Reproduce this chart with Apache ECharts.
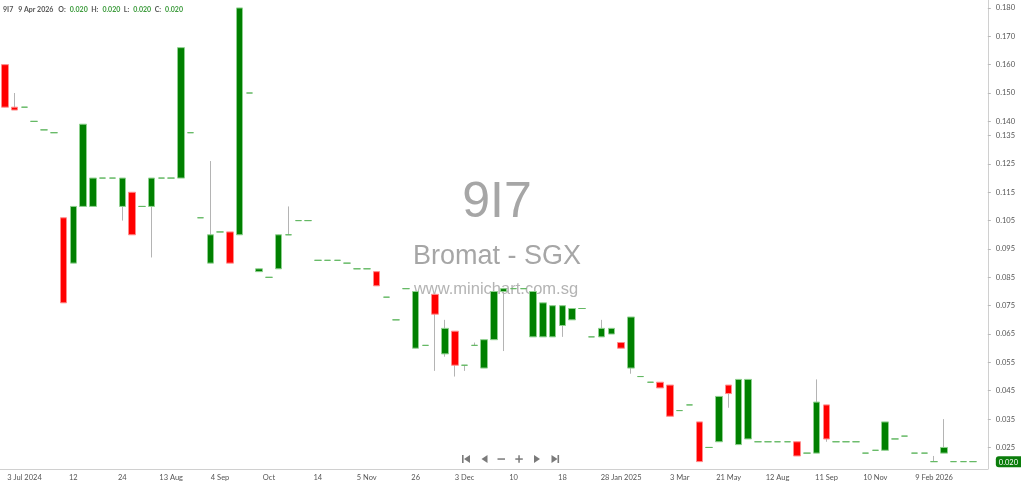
<!DOCTYPE html>
<html><head><meta charset="utf-8">
<script src="https://cdn.jsdelivr.net/npm/echarts@6/dist/echarts.min.js"></script>
<style>html,body{margin:0;padding:0;background:#fff}#c{width:1024px;height:484px}</style>
</head><body><div id="c"></div>
<script>
const symbol = '9I7';
const stockName = 'Bromat - SGX';
const site = 'www.minichart.com.sg';
const lastDate = '9 Apr 2026';

const opens = [
0.160,0.145,0.145,0.140,0.137,0.136,0.106,0.090,0.110,0.110,
0.120,0.120,0.110,0.115,0.110,0.110,0.120,0.120,0.120,0.136,
0.106,0.090,0.101,0.101,0.100,0.150,0.087,0.085,0.088,0.100,
0.105,0.105,0.091,0.091,0.091,0.090,0.088,0.088,0.087,0.078,
0.070,0.081,0.060,0.061,0.079,0.058,0.066,0.054,0.061,0.053,
0.063,0.080,0.081,0.081,0.064,0.064,0.064,0.068,0.070,0.074,
0.064,0.064,0.065,0.062,0.053,0.050,0.048,0.048,0.047,0.038,
0.040,0.034,0.025,0.027,0.047,0.026,0.028,0.027,0.027,0.027,
0.027,0.027,0.023,0.023,0.040,0.027,0.027,0.027,0.023,0.024,
0.024,0.028,0.029,0.023,0.023,0.020,0.023,0.020,0.020,0.020];
const highs = [
0.160,0.150,0.145,0.140,0.137,0.136,0.106,0.110,0.139,0.120,
0.120,0.120,0.120,0.115,0.110,0.120,0.120,0.120,0.166,0.136,
0.106,0.126,0.101,0.101,0.180,0.150,0.088,0.085,0.100,0.110,
0.105,0.105,0.091,0.091,0.091,0.090,0.088,0.088,0.087,0.078,
0.070,0.081,0.080,0.061,0.079,0.070,0.066,0.054,0.062,0.063,
0.080,0.081,0.081,0.081,0.080,0.076,0.075,0.075,0.074,0.074,
0.064,0.070,0.067,0.062,0.071,0.050,0.048,0.048,0.047,0.038,
0.040,0.034,0.025,0.043,0.047,0.049,0.049,0.027,0.027,0.027,
0.027,0.027,0.023,0.049,0.040,0.027,0.027,0.027,0.023,0.024,
0.034,0.028,0.029,0.023,0.023,0.022,0.035,0.020,0.020,0.020];
const lows = [
0.145,0.144,0.145,0.140,0.137,0.136,0.076,0.090,0.110,0.110,
0.120,0.120,0.105,0.100,0.110,0.092,0.120,0.120,0.120,0.136,
0.106,0.090,0.101,0.090,0.100,0.150,0.087,0.085,0.088,0.100,
0.105,0.105,0.091,0.091,0.091,0.090,0.088,0.088,0.082,0.078,
0.070,0.081,0.060,0.061,0.052,0.057,0.050,0.052,0.061,0.053,
0.063,0.059,0.081,0.081,0.064,0.064,0.064,0.064,0.070,0.074,
0.064,0.064,0.065,0.060,0.051,0.050,0.048,0.046,0.036,0.038,
0.040,0.020,0.025,0.027,0.039,0.026,0.028,0.027,0.027,0.027,
0.027,0.022,0.023,0.023,0.027,0.027,0.027,0.027,0.023,0.024,
0.024,0.028,0.029,0.023,0.023,0.020,0.023,0.020,0.020,0.020];
const closes = [
0.145,0.144,0.145,0.140,0.137,0.136,0.076,0.110,0.139,0.120,
0.120,0.120,0.120,0.100,0.110,0.120,0.120,0.120,0.166,0.136,
0.106,0.100,0.101,0.090,0.180,0.150,0.088,0.085,0.100,0.100,
0.105,0.105,0.091,0.091,0.091,0.090,0.088,0.088,0.082,0.078,
0.070,0.081,0.080,0.061,0.072,0.067,0.054,0.054,0.061,0.063,
0.080,0.081,0.081,0.081,0.080,0.076,0.075,0.075,0.074,0.074,
0.064,0.067,0.067,0.060,0.071,0.050,0.048,0.046,0.036,0.038,
0.040,0.020,0.025,0.043,0.044,0.049,0.049,0.027,0.027,0.027,
0.027,0.022,0.023,0.041,0.028,0.027,0.027,0.027,0.023,0.024,
0.034,0.028,0.029,0.023,0.023,0.020,0.025,0.020,0.020,0.020];

const tickPos = [2,7,12,17,22,27,32,37,42,47,52,57,63,69,74,79,84,89,95];
const tickText = ['3 Jul 2024','12','24','13 Aug','4 Sep','Oct','14','5 Nov','26','3 Dec','10','18','28 Jan 2025','3 Mar','21 May','12 Aug','11 Sep','10 Nov','9 Feb 2026'];
const yLabels = [0.180,0.170,0.160,0.150,0.140,0.135,0.125,0.115,0.105,0.095,0.085,0.075,0.065,0.055,0.045,0.035,0.025];

const n = opens.length;
const last = n - 1;
const lastClose = closes[last];
const categories = Array.from({length: n + 1}, (_, i) => String(i));
const wickData = opens.map((o, i) => [o, closes[i], lows[i], highs[i]]);
const bodyData = opens.map((o, i) => [o, closes[i], Math.min(o, closes[i]), Math.max(o, closes[i])]);
const isTick = (i) => tickPos.indexOf(i) >= 0;

const chart = echarts.init(document.getElementById('c'));
const F = 'Lato, "Liberation Sans", sans-serif';
const gray = '#7a7a7a';
chart.setOption({
  animation: false,
  backgroundColor: '#fff',
  title: {
    left: 3, top: 6, padding: 0,
    text: `{n|${symbol}}{n|${lastDate}}{l|O:}{v|${opens[last].toFixed(3)}}{l|H:}{v|${highs[last].toFixed(3)}}{l|L:}{v|${lows[last].toFixed(3)}}{l|C:}{v|${closes[last].toFixed(3)}}`,
    textStyle: {
      fontFamily: F, fontSize: 7,
      rich: {
        n: {color: '#555', fontFamily: F, fontSize: 7, padding: [0, 5, 0, 0]},
        l: {color: '#555', fontFamily: F, fontSize: 7, padding: [0, 4, 0, 0]},
        v: {color: '#3a9a3a', fontFamily: F, fontSize: 7, padding: [0, 3.5, 0, 0]}
      }
    }
  },
  grid: {left: 0, right: 28, top: 0, bottom: 15},
  xAxis: {
    type: 'category',
    data: categories,
    boundaryGap: true,
    axisLine: {lineStyle: {color: '#d0d0d0'}},
    axisTick: {alignWithLabel: true, length: 4, interval: (i) => isTick(i), lineStyle: {color: '#c8c8c8'}},
    axisLabel: {
      interval: (i) => isTick(i),
      formatter: (v, i) => { const k = tickPos.indexOf(Number(v)); return k >= 0 ? tickText[k] : ''; },
      fontFamily: F, fontSize: 7.5, color: '#555', margin: 5
    },
    splitLine: {show: false}
  },
  yAxis: {
    type: 'value',
    position: 'right',
    min: 0.0174, max: 0.1828,
    scale: true,
    axisLine: {show: true, lineStyle: {color: '#d0d0d0'}},
    axisTick: {show: true, length: 3, customValues: yLabels, lineStyle: {color: '#b8b8b8'}},
    axisLabel: {
      customValues: yLabels.concat([lastClose]),
      formatter: (v) => Math.abs(v - lastClose) < 1e-9 ? `{tag|${v.toFixed(3)}}` : v.toFixed(3),
      fontFamily: F, fontSize: 7.5, color: '#555', margin: 8,
      rich: {
        tag: {backgroundColor: '#0b7d0b', color: '#fff', fontFamily: F, fontSize: 7.5, padding: [2, 3, 1, 3], borderRadius: [3, 0, 0, 3]}
      }
    },
    splitLine: {show: false}
  },
  graphic: [
    {type: 'text', x: 497, y: 203, silent: true, z: 0, style: {text: symbol, font: '50px "Liberation Sans", Arial, sans-serif', fill: '#a6a6a6', textAlign: 'center', textVerticalAlign: 'middle'}},
    {type: 'text', x: 497, y: 257, silent: true, z: 0, style: {text: stockName, font: '27px "Liberation Sans", Arial, sans-serif', fill: '#a6a6a6', textAlign: 'center', textVerticalAlign: 'middle'}},
    {type: 'text', x: 496, y: 289, silent: true, z: 0, style: {text: site, font: '16.5px "Liberation Sans", Arial, sans-serif', fill: '#b4b4b4', textAlign: 'center', textVerticalAlign: 'middle'}},
    {type: 'rect', shape: {x: 462, y: 455, width: 1.6, height: 8}, style: {fill: gray}, silent: true},
    {type: 'polygon', shape: {points: [[470, 455], [470, 463], [464, 459]]}, style: {fill: gray}, silent: true},
    {type: 'polygon', shape: {points: [[487.5, 455], [487.5, 463], [481.5, 459]]}, style: {fill: gray}, silent: true},
    {type: 'rect', shape: {x: 497.5, y: 458.3, width: 7.5, height: 1.5}, style: {fill: gray}, silent: true},
    {type: 'rect', shape: {x: 515.3, y: 458.3, width: 7.5, height: 1.5}, style: {fill: gray}, silent: true},
    {type: 'rect', shape: {x: 518.3, y: 455.3, width: 1.5, height: 7.5}, style: {fill: gray}, silent: true},
    {type: 'polygon', shape: {points: [[534, 455], [534, 463], [540, 459]]}, style: {fill: gray}, silent: true},
    {type: 'polygon', shape: {points: [[551.5, 455], [551.5, 463], [557.5, 459]]}, style: {fill: gray}, silent: true},
    {type: 'rect', shape: {x: 557.5, y: 455, width: 1.6, height: 8}, style: {fill: gray}, silent: true}
  ],
  series: [
    {
      type: 'candlestick',
      name: 'wick',
      data: wickData,
      barWidth: 0.5,
      itemStyle: {color: '#b4b4b4', color0: '#b4b4b4', borderColor: '#b4b4b4', borderColor0: '#b4b4b4', borderColorDoji: '#b4b4b4', borderWidth: 1},
      z: 2
    },
    {
      type: 'candlestick',
      name: 'body',
      data: bodyData,
      barWidth: 7,
      itemStyle: {color: '#008000', color0: '#ff0000', borderColor: '#8fd08f', borderColor0: '#ff8c8c', borderColorDoji: '#63b863', borderWidth: 1},
      z: 3
    }
  ]
});
</script></body></html>
